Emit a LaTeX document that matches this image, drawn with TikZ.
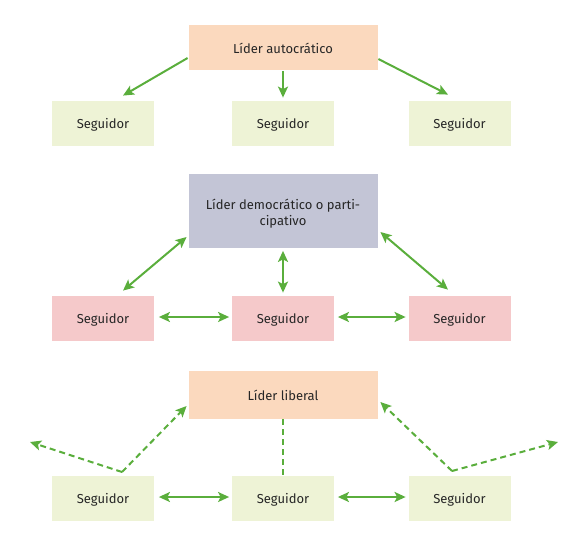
\documentclass[tikz,border=0pt]{standalone}
\usepackage{fontspec}
\setmainfont{Fira Sans}
\usetikzlibrary{arrows.meta}
\definecolor{peach}{HTML}{FBD9BE}
\definecolor{lav}{HTML}{C3C5D6}
\definecolor{pinkf}{HTML}{F5C9CA}
\definecolor{greenf}{HTML}{EEF3D6}
\definecolor{arr}{HTML}{5AAE3C}
\tikzset{
  box/.style={draw=white, line width=0.8pt, minimum height=46pt, align=center, font=\fontsize{13}{16}\selectfont, text=black!85},
  one/.style={text height=1.1em, text depth=0pt},
  leader/.style={box, minimum width=190pt},
  foll/.style={box, one, minimum width=103pt, minimum height=46pt},
  tip/.tip={Stealth[length=11pt,width=10pt,inset=2.5pt]},
  con/.style={draw=arr, line width=2pt, -tip},
  dcon/.style={draw=arr, line width=2pt, tip-tip},
  dashcon/.style={draw=arr, line width=2pt, dash pattern=on 6pt off 4pt},
}
\begin{document}
\begin{tikzpicture}[x=1pt,y=-1pt]
\useasboundingbox (0,0) rectangle (576,542);
% row 1
\node[leader, one, fill=peach, minimum height=46pt] (L1) at (283,47.5) {Líder autocrático};
\node[foll, fill=greenf] (A1) at (103,123) {Seguidor};
\node[foll, fill=greenf] (A2) at (283,123) {Seguidor};
\node[foll, fill=greenf] (A3) at (459.5,123) {Seguidor};
\draw[con] ([yshift=-10.5pt]L1.west) -- ([xshift=20pt,yshift=4pt]A1.north);
\draw[con] (L1.south) -- ([yshift=2pt]A2.north);
\draw[con] ([yshift=-11.5pt]L1.east) -- ([xshift=-11.5pt,yshift=5pt]A3.north);
% row 2
\node[leader, fill=lav, minimum height=75pt, minimum width=190pt, inner sep=0pt] (L2) at (283,211) {\raisebox{-6.5pt}[0pt][0pt]{\begin{tabular}{@{}c@{}}Líder democrático o parti-\\cipativo\end{tabular}}};
\node[foll, fill=pinkf] (B1) at (103,318) {Seguidor};
\node[foll, fill=pinkf] (B2) at (283,318) {Seguidor};
\node[foll, fill=pinkf] (B3) at (459.5,318) {Seguidor};
\draw[dcon] ([xshift=-1pt,yshift=-26pt]L2.west) -- ([xshift=20pt,yshift=4pt]B1.north);
\draw[dcon] ([yshift=-2pt]L2.south) -- ([yshift=2pt]B2.north);
\draw[dcon] ([xshift=2pt,yshift=-21pt]L2.east) -- ([xshift=-11.5pt,yshift=5pt]B3.north);
\draw[dcon] ([xshift=4pt,yshift=1pt]B1.east) -- ([xshift=-2pt,yshift=1pt]B2.west);
\draw[dcon] ([xshift=3pt,yshift=1pt]B2.east) -- ([xshift=-2pt,yshift=1pt]B3.west);
% row 3
\node[leader, one, fill=peach, minimum height=49pt] (L3) at (283,394.5) {Líder liberal};
\node[foll, fill=greenf] (C1) at (103,498) {Seguidor};
\node[foll, fill=greenf] (C2) at (283,498) {Seguidor};
\node[foll, fill=greenf] (C3) at (459.5,498) {Seguidor};
\coordinate (p1) at (122,472);
\coordinate (p2) at (452,471);
\coordinate (e1) at (30,442);
\coordinate (e2) at (558,442);
\draw[dashcon, -tip] (p1) -- ([xshift=-1pt,yshift=-11.5pt]L3.west);
\draw[dashcon, -tip] (p1) -- (e1);
\draw[dashcon, -tip] (p2) -- ([xshift=2pt,yshift=-7.5pt]L3.east);
\draw[dashcon, -tip] (p2) -- (e2);
\draw[dashcon] (L3.south) -- (C2.north);
\draw[dcon] ([xshift=4pt,yshift=1pt]C1.east) -- ([xshift=-2pt,yshift=1pt]C2.west);
\draw[dcon] ([xshift=3pt,yshift=1pt]C2.east) -- ([xshift=-2pt,yshift=1pt]C3.west);
\end{tikzpicture}
\end{document}
